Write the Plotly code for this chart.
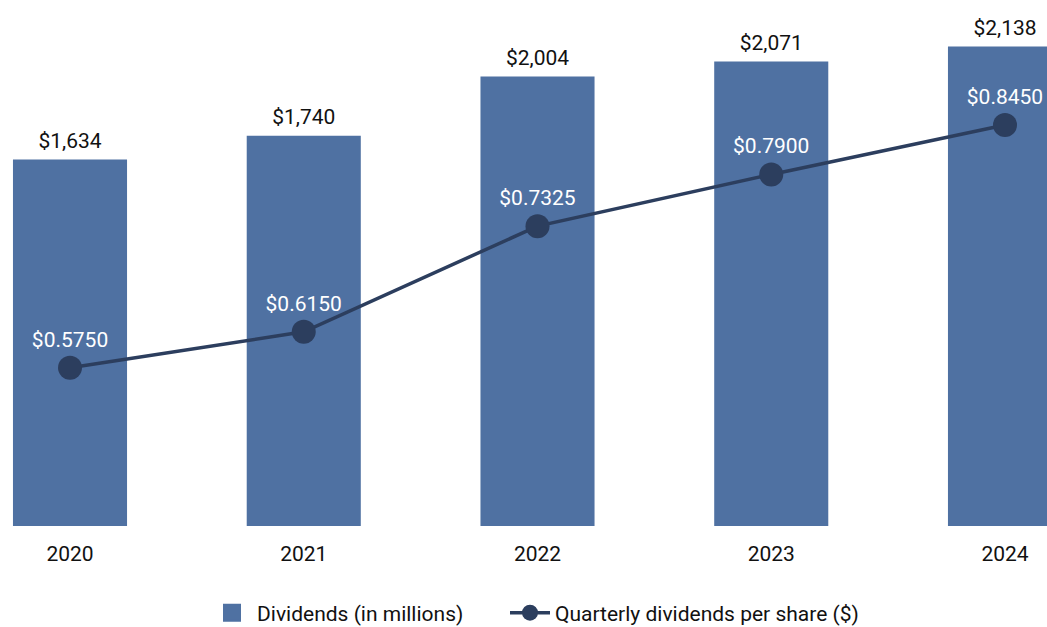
import plotly.graph_objects as go

years = ["2020", "2021", "2022", "2023", "2024"]
dividends = [1634, 1740, 2004, 2071, 2138]
dividend_labels = ["$1,634", "$1,740", "$2,004", "$2,071", "$2,138"]
per_share = [0.5750, 0.6150, 0.7325, 0.7900, 0.8450]
per_share_labels = ["$0.5750", "$0.6150", "$0.7325", "$0.7900", "$0.8450"]

BAR_COLOR = "#4F71A2"
LINE_COLOR = "#2C3E5E"
TEXT_COLOR = "#111111"
FONT = "Roboto"

fig = go.Figure()
fig.add_trace(go.Bar(
    x=years, y=dividends, name="Dividends (in millions)",
    marker=dict(color=BAR_COLOR, line=dict(width=0)),
    width=0.488, showlegend=False, hoverinfo="skip",
))
# value labels above bars
fig.add_trace(go.Scatter(
    x=years, y=dividends, mode="markers+text",
    marker=dict(size=8, opacity=0),
    text=dividend_labels, textposition="top center",
    textfont=dict(family=FONT, size=21, color=TEXT_COLOR),
    showlegend=False, hoverinfo="skip", cliponaxis=False,
))
fig.add_trace(go.Scatter(
    x=years, y=per_share, name="Quarterly dividends per share ($)",
    mode="lines+markers+text",
    line=dict(color=LINE_COLOR, width=3.5),
    marker=dict(color=LINE_COLOR, size=24),
    text=per_share_labels, textposition="top center",
    textfont=dict(family=FONT, size=21, color="white"),
    yaxis="y2", cliponaxis=False, showlegend=False,
))
# legend entries
fig.add_trace(go.Scatter(
    x=[None], y=[None], mode="markers", name="Dividends (in millions)",
    marker=dict(symbol="square", size=16, color=BAR_COLOR, line=dict(color=BAR_COLOR, width=2)),
    legend="legend",
))
fig.add_trace(go.Scatter(
    x=[None], y=[None], mode="lines+markers", name="Quarterly dividends per share ($)",
    line=dict(color=LINE_COLOR, width=3.5),
    marker=dict(color=LINE_COLOR, size=16), yaxis="y2",
    legend="legend2",
))

legend_common = dict(orientation="h", xref="container", yref="container",
                     xanchor="left", y=14 / 627, yanchor="middle",
                     font=dict(family=FONT, size=21, color=TEXT_COLOR),
                     itemwidth=40, bgcolor="rgba(0,0,0,0)")

fig.update_layout(
    width=1047, height=627,
    margin=dict(l=0, r=0, t=20, b=101),
    paper_bgcolor="white", plot_bgcolor="white",
    font=dict(family=FONT, size=21, color=TEXT_COLOR),
    showlegend=True,
    legend=dict(x=207 / 1047, **legend_common),
    legend2=dict(x=505 / 1047, **legend_common),
    xaxis=dict(type="category", range=[-0.2995, 4.1797], showgrid=False, showline=False,
               zeroline=False, ticks="", ticklabelstandoff=13,
               tickfont=dict(family=FONT, size=21, color=TEXT_COLOR)),
    yaxis=dict(range=[0, 2256], visible=False, showgrid=False, zeroline=False),
    yaxis2=dict(range=[0.399, 0.9618], overlaying="y", side="right", visible=False,
                showgrid=False, zeroline=False),
)

fig.write_html("out.html")
